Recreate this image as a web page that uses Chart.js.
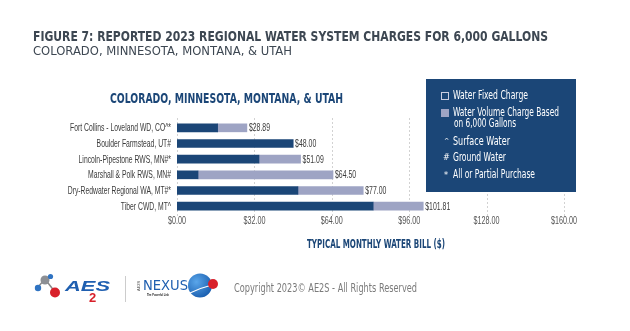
<!DOCTYPE html>
<html>
<head>
<meta charset="utf-8">
<script src="https://cdn.jsdelivr.net/npm/chart.js@4/dist/chart.umd.min.js"></script>
<style>
  html,body{margin:0;padding:0;background:#fff;}
  #wrap{position:relative;width:630px;height:331px;overflow:hidden;font-family:"Liberation Sans Narrow","DejaVu Sans Condensed","Liberation Sans",sans-serif;}
  #c{position:absolute;left:0;top:0;}
  .t{position:absolute;white-space:nowrap;line-height:1;transform-origin:0 0;}
  #legend{position:absolute;left:426px;top:79px;width:150px;height:113px;background:#1b4677;z-index:2;}
  .lg{position:absolute;color:#fff;font-size:11.5px;white-space:nowrap;line-height:1;transform-origin:0 0;}
</style>
</head>
<body>
<div id="wrap">
  <canvas id="c" width="630" height="331"></canvas>
  <div class="t" data-w="515" style="left:33px;top:30px;font-size:13.5px;font-weight:bold;color:#3d4752;">FIGURE 7: REPORTED 2023 REGIONAL WATER SYSTEM CHARGES FOR 6,000 GALLONS</div>
  <div class="t" data-w="259" style="left:33px;top:46px;font-size:11.5px;color:#3d4752;">COLORADO, MINNESOTA, MONTANA, &amp; UTAH</div>
  <div class="t" data-w="233" style="left:110px;top:91px;font-size:14.5px;font-weight:bold;color:#1b4677;">COLORADO, MINNESOTA, MONTANA, &amp; UTAH</div>
  <div class="t" data-w="138" style="left:307px;top:239px;font-size:11.5px;font-weight:bold;color:#1b4677;">TYPICAL MONTHLY WATER BILL ($)</div>
  <div id="legend">
    <div style="position:absolute;left:15px;top:13px;width:6px;height:6px;border:1px solid #c9cde0;"></div>
    <div class="lg" data-w="75" style="left:27px;top:11px;">Water Fixed Charge</div>
    <div style="position:absolute;left:15px;top:30px;width:8px;height:8px;background:#9ea4c4;"></div>
    <div class="lg" data-w="106" style="left:27px;top:28px;">Water Volume Charge Based</div>
    <div class="lg" data-w="62" style="left:28px;top:39px;">on 6,000 Gallons</div>
    <div class="lg" style="left:18px;top:59px;font-size:7px;">^</div>
    <div class="lg" data-w="57" style="left:27px;top:57px;">Surface Water</div>
    <div class="lg" style="left:17px;top:74px;font-size:9px;">#</div>
    <div class="lg" data-w="53" style="left:27px;top:73px;">Ground Water</div>
    <div class="lg" style="left:18px;top:92px;font-size:9px;">*</div>
    <div class="lg" data-w="82" style="left:27px;top:90px;">All or Partial Purchase</div>
  </div>
  <!-- footer logos -->
  <svg style="position:absolute;left:0;top:0;" width="630" height="331">
    <line x1="45" y1="279" x2="38" y2="287" stroke="#888" stroke-width="1.5"/>
    <line x1="45" y1="279" x2="55" y2="292" stroke="#888" stroke-width="1.5"/>
    <line x1="45" y1="279" x2="50" y2="276" stroke="#888" stroke-width="1.5"/>
    <circle cx="45" cy="280" r="4.5" fill="#8c8f94"/>
    <circle cx="38" cy="288" r="3.2" fill="#2f73c2"/>
    <circle cx="50.5" cy="276.5" r="2.6" fill="#2f73c2"/>
    <circle cx="55" cy="292.5" r="5" fill="#d8202a"/>
    <text x="65" y="291" font-family="Liberation Sans, sans-serif" font-weight="bold" font-style="italic" font-size="15" fill="#1f5fb0" textLength="45" lengthAdjust="spacingAndGlyphs">AES</text>
    <text x="89" y="302" font-family="Liberation Sans, sans-serif" font-weight="bold" font-size="13" fill="#d8202a">2</text>
    <line x1="125.5" y1="276" x2="125.5" y2="302" stroke="#ccc" stroke-width="1"/>
    <text x="140" y="291" font-family="Liberation Sans, sans-serif" font-size="4" fill="#555" transform="rotate(-90 140 291)">AE2S</text>
    <text x="143" y="290" font-family="Liberation Sans Narrow, DejaVu Sans Condensed, sans-serif" font-size="14" fill="#1f5fb0" textLength="45" lengthAdjust="spacingAndGlyphs">NEXUS</text>
    <text x="147" y="296" font-family="Liberation Sans, sans-serif" font-weight="bold" font-size="3.5" fill="#222" textLength="22" lengthAdjust="spacingAndGlyphs">The Powerful Link</text>
    <defs><radialGradient id="g" cx="35%" cy="35%" r="70%"><stop offset="0" stop-color="#5aa6ea"/><stop offset="1" stop-color="#1a5fb0"/></radialGradient></defs>
    <circle cx="200" cy="285.5" r="12" fill="url(#g)"/>
    <path d="M190 293 Q200 288 212 285" stroke="#fff" stroke-width="1.2" fill="none"/>
    <circle cx="213" cy="284" r="5" fill="#d8202a"/>
  </svg>
  <div class="t" data-w="183" style="left:234px;top:282px;font-size:12.5px;color:#7b7b7b;">Copyright 2023© AE2S - All Rights Reserved</div>
</div>
<script>
const categories = ["Fort Collins - Loveland WD, CO^*","Boulder Farmstead, UT#","Lincoln-Pipestone RWS, MN#*","Marshall & Polk RWS, MN#","Dry-Redwater Regional WA, MT#*","Tiber CWD, MT^"];
const fixedCharge = [16.8, 48.0, 33.9, 8.7, 50.0, 81.1];
const volumeCharge = [12.09, 0, 17.19, 55.8, 27.0, 20.71];
const totalLabels = ["$28.89","$48.00","$51.09","$64.50","$77.00","$101.81"];
const xTicks = [0, 32, 64, 96, 128, 160];

// fit widths of HTML texts
document.querySelectorAll('[data-w]').forEach(el=>{
  const w = el.getBoundingClientRect().width;
  const target = parseFloat(el.dataset.w);
  if (w>0) el.style.transform = 'scaleX('+(target/w)+')';
});

const FONT = '"Liberation Sans",sans-serif';
const fmt = v => '$' + Number(v).toFixed(2);

function condensedText(ctx, text, x, y, align, sx){
  ctx.save();
  ctx.translate(x, y);
  ctx.scale(sx, 1);
  ctx.textAlign = align;
  ctx.fillText(text, 0, 0);
  ctx.restore();
}

const gridPlugin = {
  id:'dashGrid',
  beforeDatasetsDraw(chart){
    const {ctx, chartArea, scales:{x}} = chart;
    ctx.save();
    ctx.strokeStyle = '#d2d2d2';
    ctx.lineWidth = 1;
    ctx.setLineDash([2,2]);
    xTicks.forEach(v=>{
      const px = Math.round(x.getPixelForValue(v))+0.5;
      ctx.beginPath();
      ctx.moveTo(px, chartArea.top-2);
      ctx.lineTo(px, chartArea.bottom+4);
      ctx.stroke();
    });
    ctx.restore();
  }
};
const labelPlugin = {
  id:'labels',
  afterDatasetsDraw(chart){
    const {ctx, chartArea, scales:{x,y}} = chart;
    ctx.save();
    ctx.font = '11px '+FONT;
    ctx.textBaseline = 'middle';
    ctx.fillStyle = '#3a3a3a';
    const sy = 101 / ctx.measureText(categories[0]).width;
    categories.forEach((c,i)=>{
      condensedText(ctx, c, x.getPixelForValue(0)-6, y.getPixelForValue(i)+0.5, 'right', sy);
    });
    const sv = 25 / ctx.measureText(totalLabels[5]).width;
    categories.forEach((c,i)=>{
      const tot = fixedCharge[i]+volumeCharge[i];
      condensedText(ctx, totalLabels[i], x.getPixelForValue(tot)+2, y.getPixelForValue(i)+0.5, 'left', sv);
    });
    ctx.fillStyle = '#555';
    const sx = 26 / ctx.measureText(fmt(160)).width;
    xTicks.forEach(v=>{
      condensedText(ctx, fmt(v), x.getPixelForValue(v), chartArea.bottom+6.5, 'center', sx);
    });
    ctx.restore();
  }
};

new Chart(document.getElementById('c'), {
  type:'bar',
  data:{
    labels: categories,
    datasets:[
      {label:'Water Fixed Charge', data: fixedCharge, backgroundColor:'#1b4677', barThickness:8},
      {label:'Water Volume Charge Based on 6,000 Gallons', data: volumeCharge, backgroundColor:'#9ea4c4', barThickness:8}
    ]
  },
  options:{
    responsive:false,
    animation:false,
    indexAxis:'y',
    layout:{padding:{left:0,right:66,top:120,bottom:0}},
    plugins:{legend:{display:false}, tooltip:{enabled:false}},
    scales:{
      x:{
        stacked:true, min:0, max:160,
        afterBuildTicks(s){ s.ticks = xTicks.map(v=>({value:v})); },
        ticks:{display:false},
        grid:{display:false},
        border:{display:false},
        afterFit(s){ s.height = 117; }
      },
      y:{
        stacked:true,
        ticks:{display:false},
        grid:{display:false},
        border:{display:false},
        afterFit(s){ s.width = 177; }
      }
    }
  },
  plugins:[gridPlugin, labelPlugin]
});
</script>
</body>
</html>
